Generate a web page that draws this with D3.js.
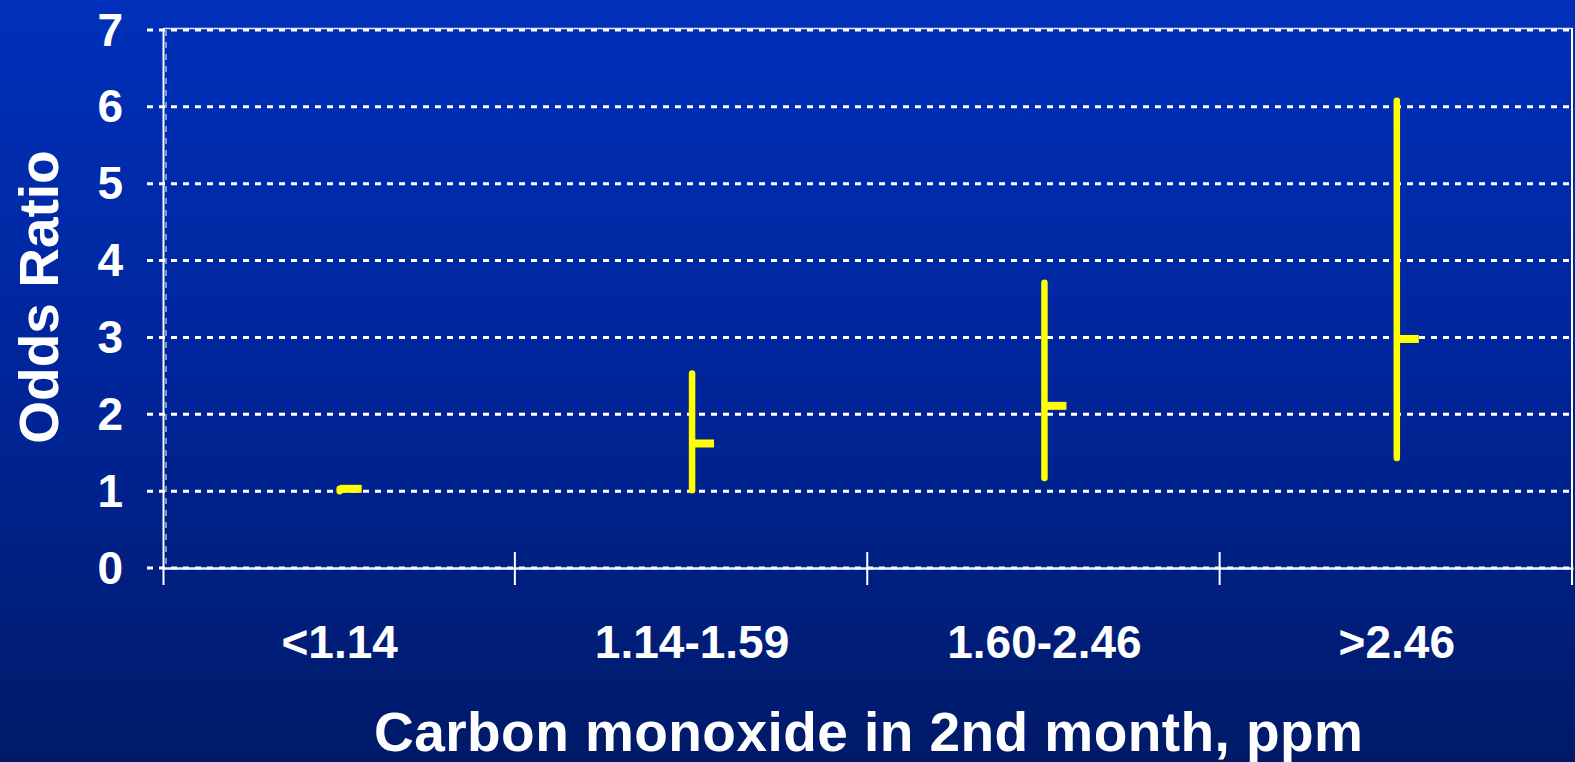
<!DOCTYPE html>
<html>
<head>
<meta charset="utf-8">
<script src="https://cdn.jsdelivr.net/npm/d3@7/dist/d3.min.js"></script>
<style>
html,body{margin:0;padding:0;overflow:hidden;background:#001f80;}
svg{display:block;}
text{font-family:"Liberation Sans",Arial,sans-serif;font-weight:bold;fill:#ffffff;}
</style>
</head>
<body>
<script>
const categories = ["<1.14", "1.14-1.59", "1.60-2.46", ">2.46"];
const ciHigh = [1.03, 2.53, 3.71, 6.08];
const ciLow = [1.00, 1.01, 1.17, 1.43];
const oddsRatio = [1.03, 1.62, 2.11, 2.98];
const yTicks = [0, 1, 2, 3, 4, 5, 6, 7];
const yTitle = "Odds Ratio";
const xTitle = "Carbon monoxide in 2nd month, ppm";

const W = 1575, H = 762;
const svg = d3.select("body").append("svg").attr("width", W).attr("height", H);

const defs = svg.append("defs");
const grad = defs.append("linearGradient").attr("id", "bg").attr("x1", 0).attr("y1", 0).attr("x2", 0).attr("y2", 1);
grad.append("stop").attr("offset", "0%").attr("stop-color", "#0030ba");
grad.append("stop").attr("offset", "50%").attr("stop-color", "#00259a");
grad.append("stop").attr("offset", "100%").attr("stop-color", "#001a68");
svg.append("rect").attr("width", W).attr("height", H).attr("fill", "url(#bg)");

const left = 163.5, right = 1573;
const y = d3.scaleLinear().domain([0, 7]).range([568, 30]);
const x = d3.scaleBand().domain(categories).range([left, right]);

// gridlines (dashed), extending left as tick marks
const grid = svg.append("g");
grid.selectAll("line").data(yTicks).join("line")
  .attr("x1", 147).attr("x2", right)
  .attr("y1", d => y(d)).attr("y2", d => y(d))
  .attr("stroke", "#ffffff").attr("stroke-width", 3)
  .attr("stroke-dasharray", "6,6");

// plot border top and right
svg.append("line").attr("x1", left).attr("x2", right).attr("y1", y(7) - 1.5).attr("y2", y(7) - 1.5)
  .attr("stroke", "#dfe6ff").attr("stroke-width", 1.5);
svg.append("line").attr("x1", right - 1).attr("x2", right - 1).attr("y1", y(7) - 2).attr("y2", y(0))
  .attr("stroke", "#ffffff").attr("stroke-width", 2);

// dashed vertical next to y-axis
svg.append("line").attr("x1", left + 2.5).attr("x2", left + 2.5).attr("y1", y(7)).attr("y2", y(0))
  .attr("stroke", "#ffffff").attr("stroke-width", 1).attr("stroke-dasharray", "6,6");

// y axis line
svg.append("line").attr("x1", left).attr("x2", left).attr("y1", y(7) - 2).attr("y2", 585)
  .attr("stroke", "#ffffff").attr("stroke-width", 2);

// x axis
const xAxis = d3.axisBottom(x).tickSize(0).tickFormat("");
svg.append("g").attr("transform", `translate(0,${y(0)})`).call(xAxis)
  .call(g => g.select(".domain").attr("stroke", "#eef2ff").attr("stroke-width", 2.5));
// category boundary ticks crossing axis
const bounds = categories.map(c => x(c)).concat([right]).slice(1);
svg.append("g").selectAll("line").data(bounds).join("line")
  .attr("x1", d => d - 1).attr("x2", d => d - 1)
  .attr("y1", y(0) - 16).attr("y2", 585)
  .attr("stroke", "#ffffff").attr("stroke-width", 2);

// y tick labels
svg.append("g").selectAll("text").data(yTicks).join("text")
  .attr("x", 123).attr("y", d => y(d) + 15.5)
  .attr("text-anchor", "end").attr("font-size", 46)
  .text(d => d);

// x tick labels
svg.append("g").selectAll("text").data(categories).join("text")
  .attr("x", d => x(d) + x.bandwidth() / 2).attr("y", 658)
  .attr("text-anchor", "middle").attr("font-size", 46)
  .text(d => d);

// axis titles
svg.append("text").attr("transform", `translate(58,297) rotate(-90)`)
  .attr("text-anchor", "middle").attr("font-size", 55).text(yTitle);
svg.append("text").attr("x", 374).attr("y", 751)
  .attr("font-size", 55).attr("textLength", 989).attr("lengthAdjust", "spacing")
  .text(xTitle);

// high-low-close marks
const data = categories.map((c, i) => ({ c, hi: ciHigh[i], lo: ciLow[i], or: oddsRatio[i] }));
const marks = svg.append("g");
marks.selectAll("line.hl").data(data).join("line").attr("class", "hl")
  .attr("x1", d => x(d.c) + x.bandwidth() / 2).attr("x2", d => x(d.c) + x.bandwidth() / 2)
  .attr("y1", d => y(d.hi)).attr("y2", d => y(d.lo))
  .attr("stroke", "#ffff00").attr("stroke-width", 6.5).attr("stroke-linecap", "round");
marks.selectAll("line.cl").data(data).join("line").attr("class", "cl")
  .attr("x1", d => x(d.c) + x.bandwidth() / 2).attr("x2", d => x(d.c) + x.bandwidth() / 2 + 22)
  .attr("y1", d => y(d.or)).attr("y2", d => y(d.or))
  .attr("stroke", "#ffff00").attr("stroke-width", 8);
</script>
</body>
</html>
